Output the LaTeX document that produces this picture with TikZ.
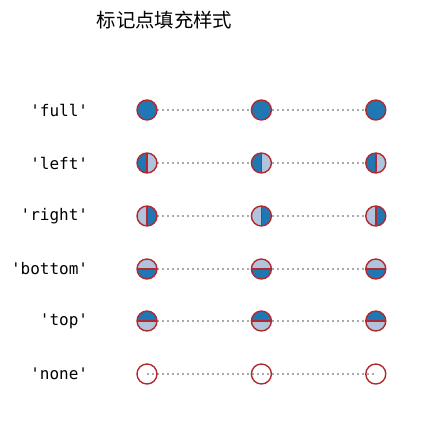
\documentclass[tikz,border=0pt]{standalone}
\usepackage{fontspec}
\setmonofont{DejaVu Sans Mono}
\newfontfamily\cjk{Noto Sans CJK SC}
\usepackage{tikz}
\usetikzlibrary{positioning,backgrounds}
\definecolor{mblue}{HTML}{1F77B4}
\definecolor{malt}{HTML}{B0C4DE}
\definecolor{medge}{HTML}{B02A30}
\definecolor{lgray}{HTML}{AAAAAA}
\tikzstyle{mk} = [circle, draw=medge, line width=1.4pt, inner sep=0pt, minimum size=20pt]
\tikzstyle{full} = [mk, fill=mblue]
\tikzstyle{hollow} = [mk, fill=none]
\tikzstyle{halfleft} = [mk, fill=malt, path picture={\fill[mblue] (path picture bounding box.north west) rectangle (path picture bounding box.south); \draw[medge, line width=1.4pt] (path picture bounding box.north) -- (path picture bounding box.south);}]
\tikzstyle{halfright} = [mk, fill=malt, path picture={\fill[mblue] (path picture bounding box.north) rectangle (path picture bounding box.south east); \draw[medge, line width=1.4pt] (path picture bounding box.north) -- (path picture bounding box.south);}]
\tikzstyle{halfbottom} = [mk, fill=malt, path picture={\fill[mblue] (path picture bounding box.west) rectangle (path picture bounding box.south east); \draw[medge, line width=1.4pt] (path picture bounding box.west) -- (path picture bounding box.east);}]
\tikzstyle{halftop} = [mk, fill=malt, path picture={\fill[mblue] (path picture bounding box.north west) rectangle (path picture bounding box.east); \draw[medge, line width=1.4pt] (path picture bounding box.west) -- (path picture bounding box.east);}]
\tikzstyle{lbl} = [draw=none, fill=none, inner sep=0pt, font=\ttfamily\fontsize{16}{18}\selectfont]
\tikzstyle{dots} = [lgray, line width=1.6pt, dash pattern=on 1.6pt off 3.4pt]
\begin{document}
\begin{tikzpicture}[x=1pt, y=-1pt]
\useasboundingbox (0,0) rectangle (431,437);

% title ==================================
\node[font=\cjk\fontsize{19.4}{22}\selectfont] (title) at (164.5,20) {标记点填充样式};

% markers ================================

% full
\node[full] (f1) at (147,110) {};
\node[full, right=93pt of f1] (f2) {};
\node[full, right=93pt of f2] (f3) {};
\node[lbl, left=48pt of f1] (lfull) {'full'};

% left
\node[halfleft] (l1) at (147,163) {};
\node[halfleft, right=93pt of l1] (l2) {};
\node[halfleft, right=93pt of l2] (l3) {};
\node[lbl, left=48pt of l1] (lleft) {'left'};

% right
\node[halfright] (r1) at (147,216) {};
\node[halfright, right=93pt of r1] (r2) {};
\node[halfright, right=93pt of r2] (r3) {};
\node[lbl, left=48pt of r1] (lright) {'right'};

% bottom
\node[halfbottom] (b1) at (147,269) {};
\node[halfbottom, right=93pt of b1] (b2) {};
\node[halfbottom, right=93pt of b2] (b3) {};
\node[lbl, left=48pt of b1] (lbottom) {'bottom'};

% top
\node[halftop] (t1) at (147,321) {};
\node[halftop, right=93pt of t1] (t2) {};
\node[halftop, right=93pt of t2] (t3) {};
\node[lbl, left=48pt of t1] (ltop) {'top'};

% none
\node[hollow] (n1) at (147,374) {};
\node[hollow, right=93pt of n1] (n2) {};
\node[hollow, right=93pt of n2] (n3) {};
\node[lbl, left=48pt of n1] (lnone) {'none'};

% dotted lines ===========================
\begin{scope}[on background layer]
\draw[dots] (f1.center) -- (f2.center) -- (f3.center);
\draw[dots] (l1.center) -- (l2.center) -- (l3.center);
\draw[dots] (r1.center) -- (r2.center) -- (r3.center);
\draw[dots] (b1.center) -- (b2.center) -- (b3.center);
\draw[dots] (t1.center) -- (t2.center) -- (t3.center);
\draw[dots] (n1.center) -- (n2.center) -- (n3.center);
\end{scope}

\end{tikzpicture}
\end{document}
